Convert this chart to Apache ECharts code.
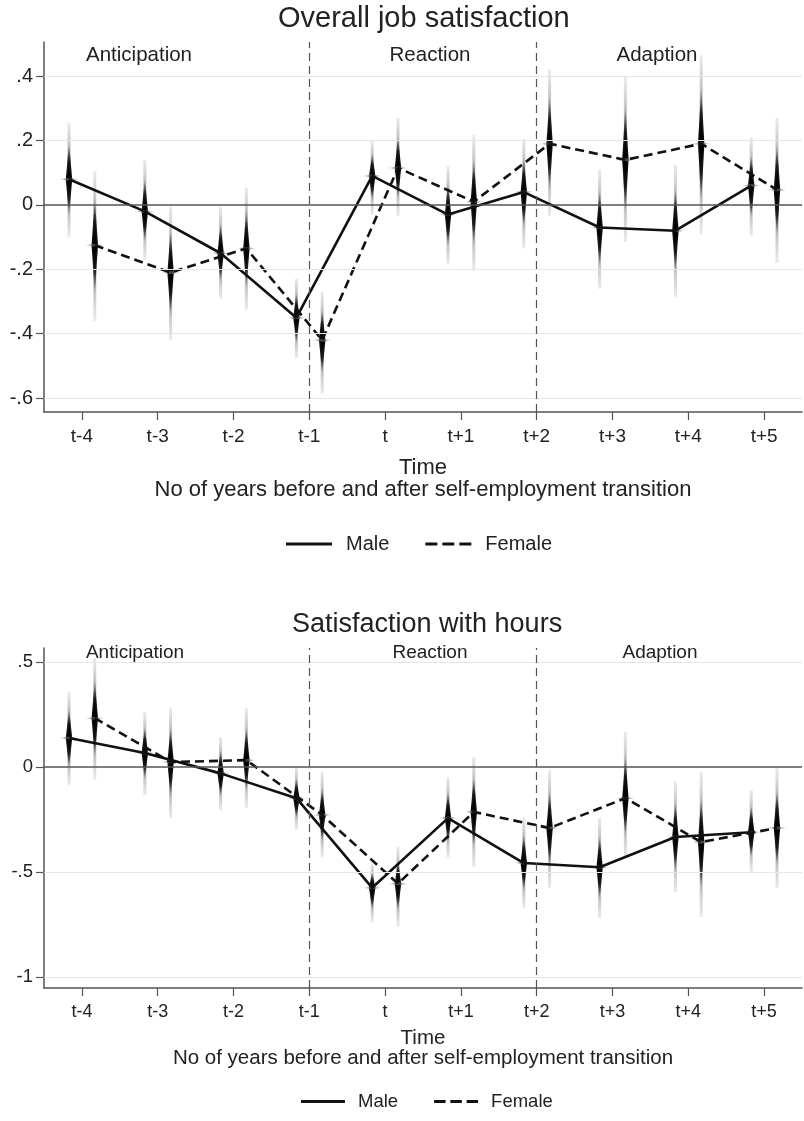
<!DOCTYPE html>
<html>
<head>
<meta charset="utf-8">
<script src="https://cdn.jsdelivr.net/npm/echarts@6/dist/echarts.min.js"></script>
<style>
  html, body { margin: 0; padding: 0; background: #fff; }
  #main { width: 804px; height: 1121px; }
</style>
</head>
<body>
<div id="main"></div>
<script>
// categories (time relative to transition)
var cats = ['t-4', 't-3', 't-2', 't-1', 't', 't+1', 't+2', 't+3', 't+4', 't+5'];
var phases = ['Anticipation', 'Reaction', 'Adaption'];

// Overall job satisfaction
var jobMale     = [0.08, -0.02, -0.15, -0.35, 0.09, -0.03, 0.04, -0.07, -0.08, 0.06];
var jobMaleLo   = [-0.10, -0.17, -0.29, -0.475, -0.03, -0.185, -0.135, -0.26, -0.285, -0.095];
var jobMaleHi   = [0.255, 0.14, -0.005, -0.23, 0.20, 0.12, 0.205, 0.11, 0.125, 0.21];
var jobFemale   = [-0.125, -0.21, -0.135, -0.42, 0.115, 0.01, 0.19, 0.14, 0.19, 0.047];
var jobFemaleLo = [-0.36, -0.42, -0.325, -0.585, -0.035, -0.205, -0.035, -0.115, -0.093, -0.18];
var jobFemaleHi = [0.105, -0.005, 0.053, -0.27, 0.27, 0.217, 0.42, 0.40, 0.465, 0.27];

// Satisfaction with hours
var hrsMale     = [0.138, 0.067, -0.03, -0.148, -0.575, -0.243, -0.457, -0.477, -0.333, -0.31];
var hrsMaleLo   = [-0.086, -0.133, -0.205, -0.30, -0.74, -0.43, -0.67, -0.72, -0.595, -0.50];
var hrsMaleHi   = [0.357, 0.262, 0.143, 0.0, -0.46, -0.048, -0.24, -0.243, -0.07, -0.11];
var hrsFemale   = [0.233, 0.024, 0.033, -0.228, -0.555, -0.214, -0.29, -0.148, -0.357, -0.29];
var hrsFemaleLo = [-0.06, -0.243, -0.195, -0.43, -0.76, -0.476, -0.576, -0.43, -0.714, -0.576];
var hrsFemaleHi = [0.52, 0.285, 0.28, -0.024, -0.38, 0.048, -0.014, 0.167, -0.024, -0.005];

// tick labels
var jobTicks = [-0.6, -0.4, -0.2, 0, 0.2, 0.4];
var hrsTicks = [-1, -0.5, 0, 0.5];
var xTicks = [0, 1, 2, 3, 4, 5, 6, 7, 8, 9];

var FONT = 'Liberation Sans, Arial, sans-serif';
var OFF_M = -0.17, OFF_F = 0.17;   // horizontal dodge of the two groups

function pts(vals, off) {
    return vals.map(function (v, i) { return [i + off, v]; });
}
function ciPts(lo, hi, est, off) {
    return est.map(function (v, i) { return [i + off, lo[i], hi[i], v]; });
}

function spikeItem(params, api) {
    var x = api.value(0);
    var pH = api.coord([x, api.value(2)]);
    var pL = api.coord([x, api.value(1)]);
    var pE = api.coord([x, api.value(3)]);
    var cx = pE[0], yH = pH[1], yL = pL[1], yE = pE[1];
    var up = Math.max(yE - yH, 1), dn = Math.max(yL - yE, 1);
    var f = up / (up + dn);
    var G = echarts.graphic.LinearGradient;
    return {
        type: 'group',
        children: [
            { type: 'rect', shape: { x: cx - 1.5, y: yH, width: 3, height: up },
              style: { fill: new G(0, 0, 0, 1, [
                  { offset: 0, color: 'rgba(220,220,220,0.6)' },
                  { offset: 0.55, color: 'rgba(165,165,165,0.9)' },
                  { offset: 1, color: '#222' }]) } },
            { type: 'rect', shape: { x: cx - 1.5, y: yE, width: 3, height: dn },
              style: { fill: new G(0, 0, 0, 1, [
                  { offset: 0, color: '#222' },
                  { offset: 0.45, color: 'rgba(165,165,165,0.9)' },
                  { offset: 1, color: 'rgba(220,220,220,0.6)' }]) } },
            { type: 'polygon',
              shape: { points: [[cx, yE - up * 0.65], [cx + 3.2, yE], [cx, yE + dn * 0.65], [cx - 3.2, yE]] },
              style: { fill: new G(0, 0, 0, 1, [
                  { offset: 0, color: 'rgba(0,0,0,0)' },
                  { offset: f * 0.5, color: 'rgba(0,0,0,0.8)' },
                  { offset: f, color: '#000' },
                  { offset: f + (1 - f) * 0.5, color: 'rgba(0,0,0,0.8)' },
                  { offset: 1, color: 'rgba(0,0,0,0)' }]) } },
            { type: 'polygon',
              shape: { points: [[cx - 11, yE], [cx, yE - 1.5], [cx + 11, yE], [cx, yE + 1.5]] },
              style: { fill: new G(0, 0, 1, 0, [
                  { offset: 0, color: 'rgba(210,210,210,0)' },
                  { offset: 0.5, color: 'rgba(70,70,70,0.9)' },
                  { offset: 1, color: 'rgba(210,210,210,0)' }]) } }
        ]
    };
}

function guideSeries(gi, ticks) {
    var data = ticks.filter(function (t) { return t !== 0; }).map(function (t) {
        return { yAxis: t, lineStyle: { color: '#e6e6e6', width: 1, type: 'solid' } };
    });
    data.push({ yAxis: 0, lineStyle: { color: '#555', width: 1.5, type: 'solid' } });
    data.push({ xAxis: 3, lineStyle: { color: '#555', width: 1.2, type: [8, 5] } });
    data.push({ xAxis: 6, lineStyle: { color: '#555', width: 1.2, type: [8, 5] } });
    return {
        type: 'line', name: 'guide' + gi, xAxisIndex: gi, yAxisIndex: gi, data: [], z: 1,
        markLine: { silent: true, symbol: 'none', label: { show: false }, animation: false, data: data }
    };
}

function spikeSeries(gi, name, lo, hi, est, off) {
    return {
        type: 'custom', name: name + ' CI' + gi, xAxisIndex: gi, yAxisIndex: gi, z: 2,
        renderItem: spikeItem, encode: { x: 0, y: [1, 2] },
        data: ciPts(lo, hi, est, off), silent: true
    };
}

function lineSeries(gi, name, vals, off, dashed) {
    return {
        type: 'line', name: name, xAxisIndex: gi, yAxisIndex: gi, z: 3,
        symbol: 'none', data: pts(vals, off),
        lineStyle: { color: '#111', width: 2.6, type: dashed ? [9, 5] : 'solid' },
        itemStyle: { color: '#111' }
    };
}

function yFmt(v) {
    if (v === 0) return '0';
    return String(v).replace('0.', '.');
}

function makeX(gi, fs, nfs, gap, lh) {
    return {
        type: 'value', gridIndex: gi, min: -0.5, max: 9.5,
        axisLine: { onZero: false, lineStyle: { color: '#555', width: 1.5 } },
        axisTick: { customValues: xTicks, length: 8, lineStyle: { color: '#555', width: 1.2 } },
        axisLabel: { customValues: xTicks, formatter: function (v) { return cats[v]; },
                     color: '#222', fontFamily: FONT, fontSize: fs, margin: 15 },
        splitLine: { show: false },
        name: 'Time\nNo of years before and after self-employment transition',
        nameLocation: 'middle', nameGap: gap,
        nameTextStyle: { color: '#222', fontFamily: FONT, fontSize: nfs, lineHeight: lh }
    };
}

function makeY(gi, min, max, ticks, fs) {
    return {
        type: 'value', gridIndex: gi, min: min, max: max,
        axisLine: { show: true, onZero: false, lineStyle: { color: '#555', width: 1.5 } },
        axisTick: { show: true, customValues: ticks, length: 8, lineStyle: { color: '#555', width: 1.2 } },
        axisLabel: { customValues: ticks, formatter: yFmt, color: '#222', fontFamily: FONT, fontSize: fs, margin: 11 },
        splitLine: { show: false }
    };
}

var solidIcon = 'path://M0,0h46v3h-46z';
var dashIcon = 'path://M0,0h12v3h-12z M17,0h12v3h-12z M34,0h12v3h-12z';

function makeLegend(left, top, fs, w) {
    return {
        left: left, top: top, itemWidth: w, itemHeight: 3, itemGap: 36,
        data: [{ name: 'Male', icon: solidIcon }, { name: 'Female', icon: dashIcon }],
        textStyle: { fontFamily: FONT, fontSize: fs, color: '#222', padding: [0, 0, 0, 8] }
    };
}

function phaseText(x, y, txt, fs) {
    return { type: 'text', x: x, y: y, z: 5,
             style: { text: txt, fill: '#222', font: fs + 'px ' + FONT, align: 'center', verticalAlign: 'middle' } };
}

var myChart = echarts.init(document.getElementById('main'));

var option = {
    backgroundColor: '#fff',
    animation: false,
    title: [
        { text: 'Overall job satisfaction', left: 278, top: 4, padding: 0,
          textStyle: { fontFamily: FONT, fontSize: 29, fontWeight: 'normal', color: '#222' } },
        { text: 'Satisfaction with hours', left: 292, top: 611, padding: 0,
          textStyle: { fontFamily: FONT, fontSize: 27, fontWeight: 'normal', color: '#222' } }
    ],
    legend: [makeLegend(281, 529, 20, 48), makeLegend(296, 1087, 18.5, 44)],
    grid: [
        { left: 44, right: 2, top: 42, height: 370 },
        { left: 44, right: 2, top: 648, height: 340 }
    ],
    xAxis: [makeX(0, 19, 22, 45, 22), makeX(1, 18, 20.5, 40, 20)],
    yAxis: [makeY(0, -0.643, 0.506, jobTicks, 20), makeY(1, -1.052, 0.567, hrsTicks, 18.5)],
    graphic: [
        phaseText(139, 55, phases[0], 20.5),
        phaseText(430, 55, phases[1], 20.5),
        phaseText(657, 55, phases[2], 20.5),
        phaseText(135, 653, phases[0], 19),
        phaseText(430, 653, phases[1], 19),
        phaseText(660, 653, phases[2], 19)
    ],
    series: [
        guideSeries(0, jobTicks),
        spikeSeries(0, 'Male', jobMaleLo, jobMaleHi, jobMale, OFF_M),
        spikeSeries(0, 'Female', jobFemaleLo, jobFemaleHi, jobFemale, OFF_F),
        lineSeries(0, 'Male', jobMale, OFF_M, false),
        lineSeries(0, 'Female', jobFemale, OFF_F, true),
        guideSeries(1, hrsTicks),
        spikeSeries(1, 'Male', hrsMaleLo, hrsMaleHi, hrsMale, OFF_M),
        spikeSeries(1, 'Female', hrsFemaleLo, hrsFemaleHi, hrsFemale, OFF_F),
        lineSeries(1, 'Male', hrsMale, OFF_M, false),
        lineSeries(1, 'Female', hrsFemale, OFF_F, true)
    ]
};

myChart.setOption(option);
</script>
</body>
</html>
